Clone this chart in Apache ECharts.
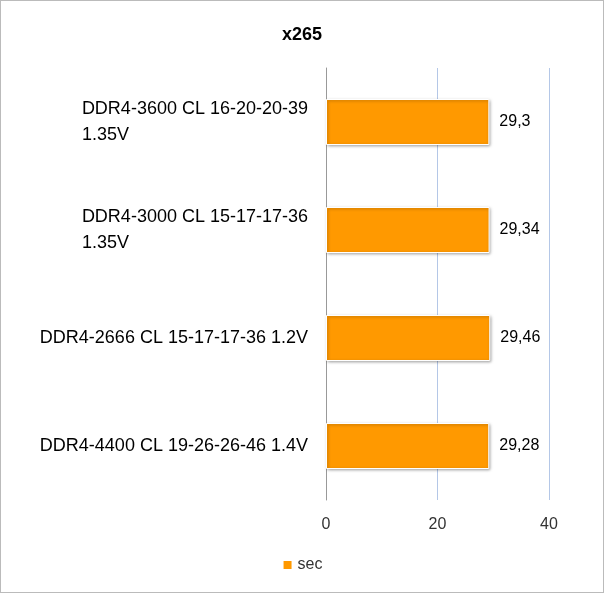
<!DOCTYPE html><html><head><meta charset="utf-8"><script src="https://cdn.jsdelivr.net/npm/echarts@6/dist/echarts.min.js"></script>
<style>body{margin:0}#c{width:604px;height:593px;box-sizing:border-box;border:1px solid #bbb}</style></head><body><div id="c"></div><script>
var categories=['DDR4-3600 CL 16-20-20-39\n1.35V','DDR4-3000 CL 15-17-17-36\n1.35V','DDR4-2666 CL 15-17-17-36 1.2V','DDR4-4400 CL 19-26-26-46 1.4V'];
var values=[29.3,29.34,29.46,29.28];
var ticks=[0,20,40];
var F='Liberation Sans';
var ch=echarts.init(document.getElementById('c'));
ch.setOption({
 title:{text:'x265',left:'center',top:20,textStyle:{fontFamily:F,fontSize:18,fontWeight:'bold',color:'#000'}},
 legend:{bottom:14,left:'center',itemWidth:10,itemHeight:10,icon:'rect',textStyle:{fontFamily:F,fontSize:16,color:'#333'},data:['sec']},
 grid:{left:325,right:54,top:67,bottom:92},
 xAxis:{type:'value',min:0,max:40,interval:20,axisLine:{show:false},axisTick:{show:false},
  splitLine:{lineStyle:{color:'#b4c7e7'}},axisLabel:{fontFamily:F,fontSize:16,color:'#333',margin:17}},
 yAxis:{type:'category',inverse:true,data:categories,axisTick:{show:false},
  axisLine:{lineStyle:{color:'#999'}},
  axisLabel:{margin:18,formatter:function(v){return '{a|'+v+'}';},rich:{a:{align:'left',fontFamily:F,fontSize:18,color:'#000',lineHeight:26}}}},
 series:[{name:'sec',type:'bar',data:values,barWidth:46,
  itemStyle:{color:'#ff9900',borderColor:'#fff',borderWidth:1,shadowColor:'rgba(0,0,0,0.35)',shadowBlur:3,shadowOffsetX:1,shadowOffsetY:1},
  label:{show:true,position:'right',distance:10,fontFamily:F,fontSize:16,color:'#000',formatter:function(p){return String(p.value).replace('.',',');}}}]
});
</script></body></html>
